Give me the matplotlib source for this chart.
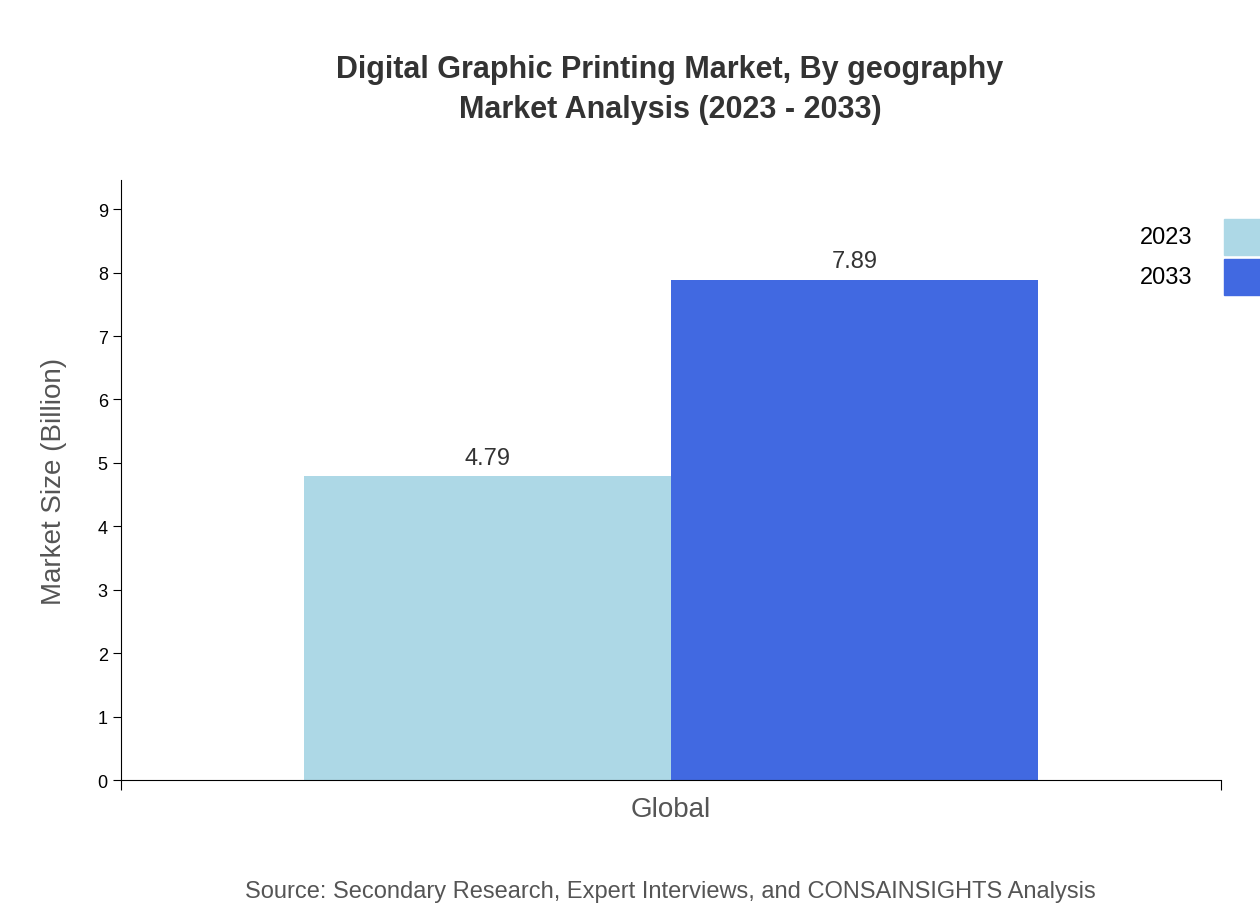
import matplotlib
matplotlib.use("Agg")
import matplotlib.pyplot as plt
from matplotlib.patches import Rectangle

plt.rcParams['font.family'] = ['Liberation Sans', 'DejaVu Sans']

categories = ["Global"]
years = ["2023", "2033"]
values = [4.79, 7.89]
colors = ["#add8e6", "#4169e1"]

fig = plt.figure(figsize=(12.6, 9.2), dpi=100)
ax = fig.add_axes([121/1260, 1-781/920, 1100/1260, 600/920])
w = 1/3
for i, (y, v, c) in enumerate(zip(years, values, colors)):
    x = (i - 0.5) * w
    ax.bar(x, v, width=w, color=c, align='edge' if False else 'center')
    ax.text(x, v + 0.12, f"{v:.2f}", ha='center', va='bottom', fontsize=17, color='#333333')
# shift so bars meet at center
for p, i in zip(ax.patches, range(2)):
    p.set_x(-w if i == 0 else 0)
for t, i in zip(ax.texts, range(2)):
    t.set_x(-w/2 if i == 0 else w/2)

ax.set_xlim(-0.5, 0.5)
ax.set_ylim(0, 9.46)
ax.set_yticks(range(10))
ax.tick_params(axis='y', labelsize=13, length=6, direction='out')
ax.set_xticks([-0.5, 0.5])
ax.set_xticklabels(["", ""])
ax.tick_params(axis='x', length=7, direction='out')
ax.text(0, -0.25, categories[0], ha='center', va='top', fontsize=20, color='#555555',
        transform=ax.transData)
for s in ['top', 'right']:
    ax.spines[s].set_visible(False)
ax.set_ylabel("Market Size (Billion)", fontsize=20, color='#555555', labelpad=22)

fig.text(670/1260, 1-70/920, "Digital Graphic Printing Market, By geography", ha='center', va='center',
         fontsize=22, fontweight='bold', color='#333333')
fig.text(670/1260, 1-110/920, "Market Analysis (2023 - 2033)", ha='center', va='center',
         fontsize=22, fontweight='bold', color='#333333')
fig.text(670/1260, 1-892/920, "Source: Secondary Research, Expert Interviews, and CONSAINSIGHTS Analysis",
         ha='center', va='center', fontsize=17, color='#555555')

for i, (y, c) in enumerate(zip(years, colors)):
    yc = 238 + 40 * i
    fig.text(1192/1260, 1-yc/920, y, ha='right', va='center', fontsize=17, color='black')
    fig.patches.append(Rectangle((1224/1260, 1-(yc+18)/920), 40/1260, 36/920,
                                 transform=fig.transFigure, color=c, figure=fig))

fig.savefig("out.png", dpi=100)
